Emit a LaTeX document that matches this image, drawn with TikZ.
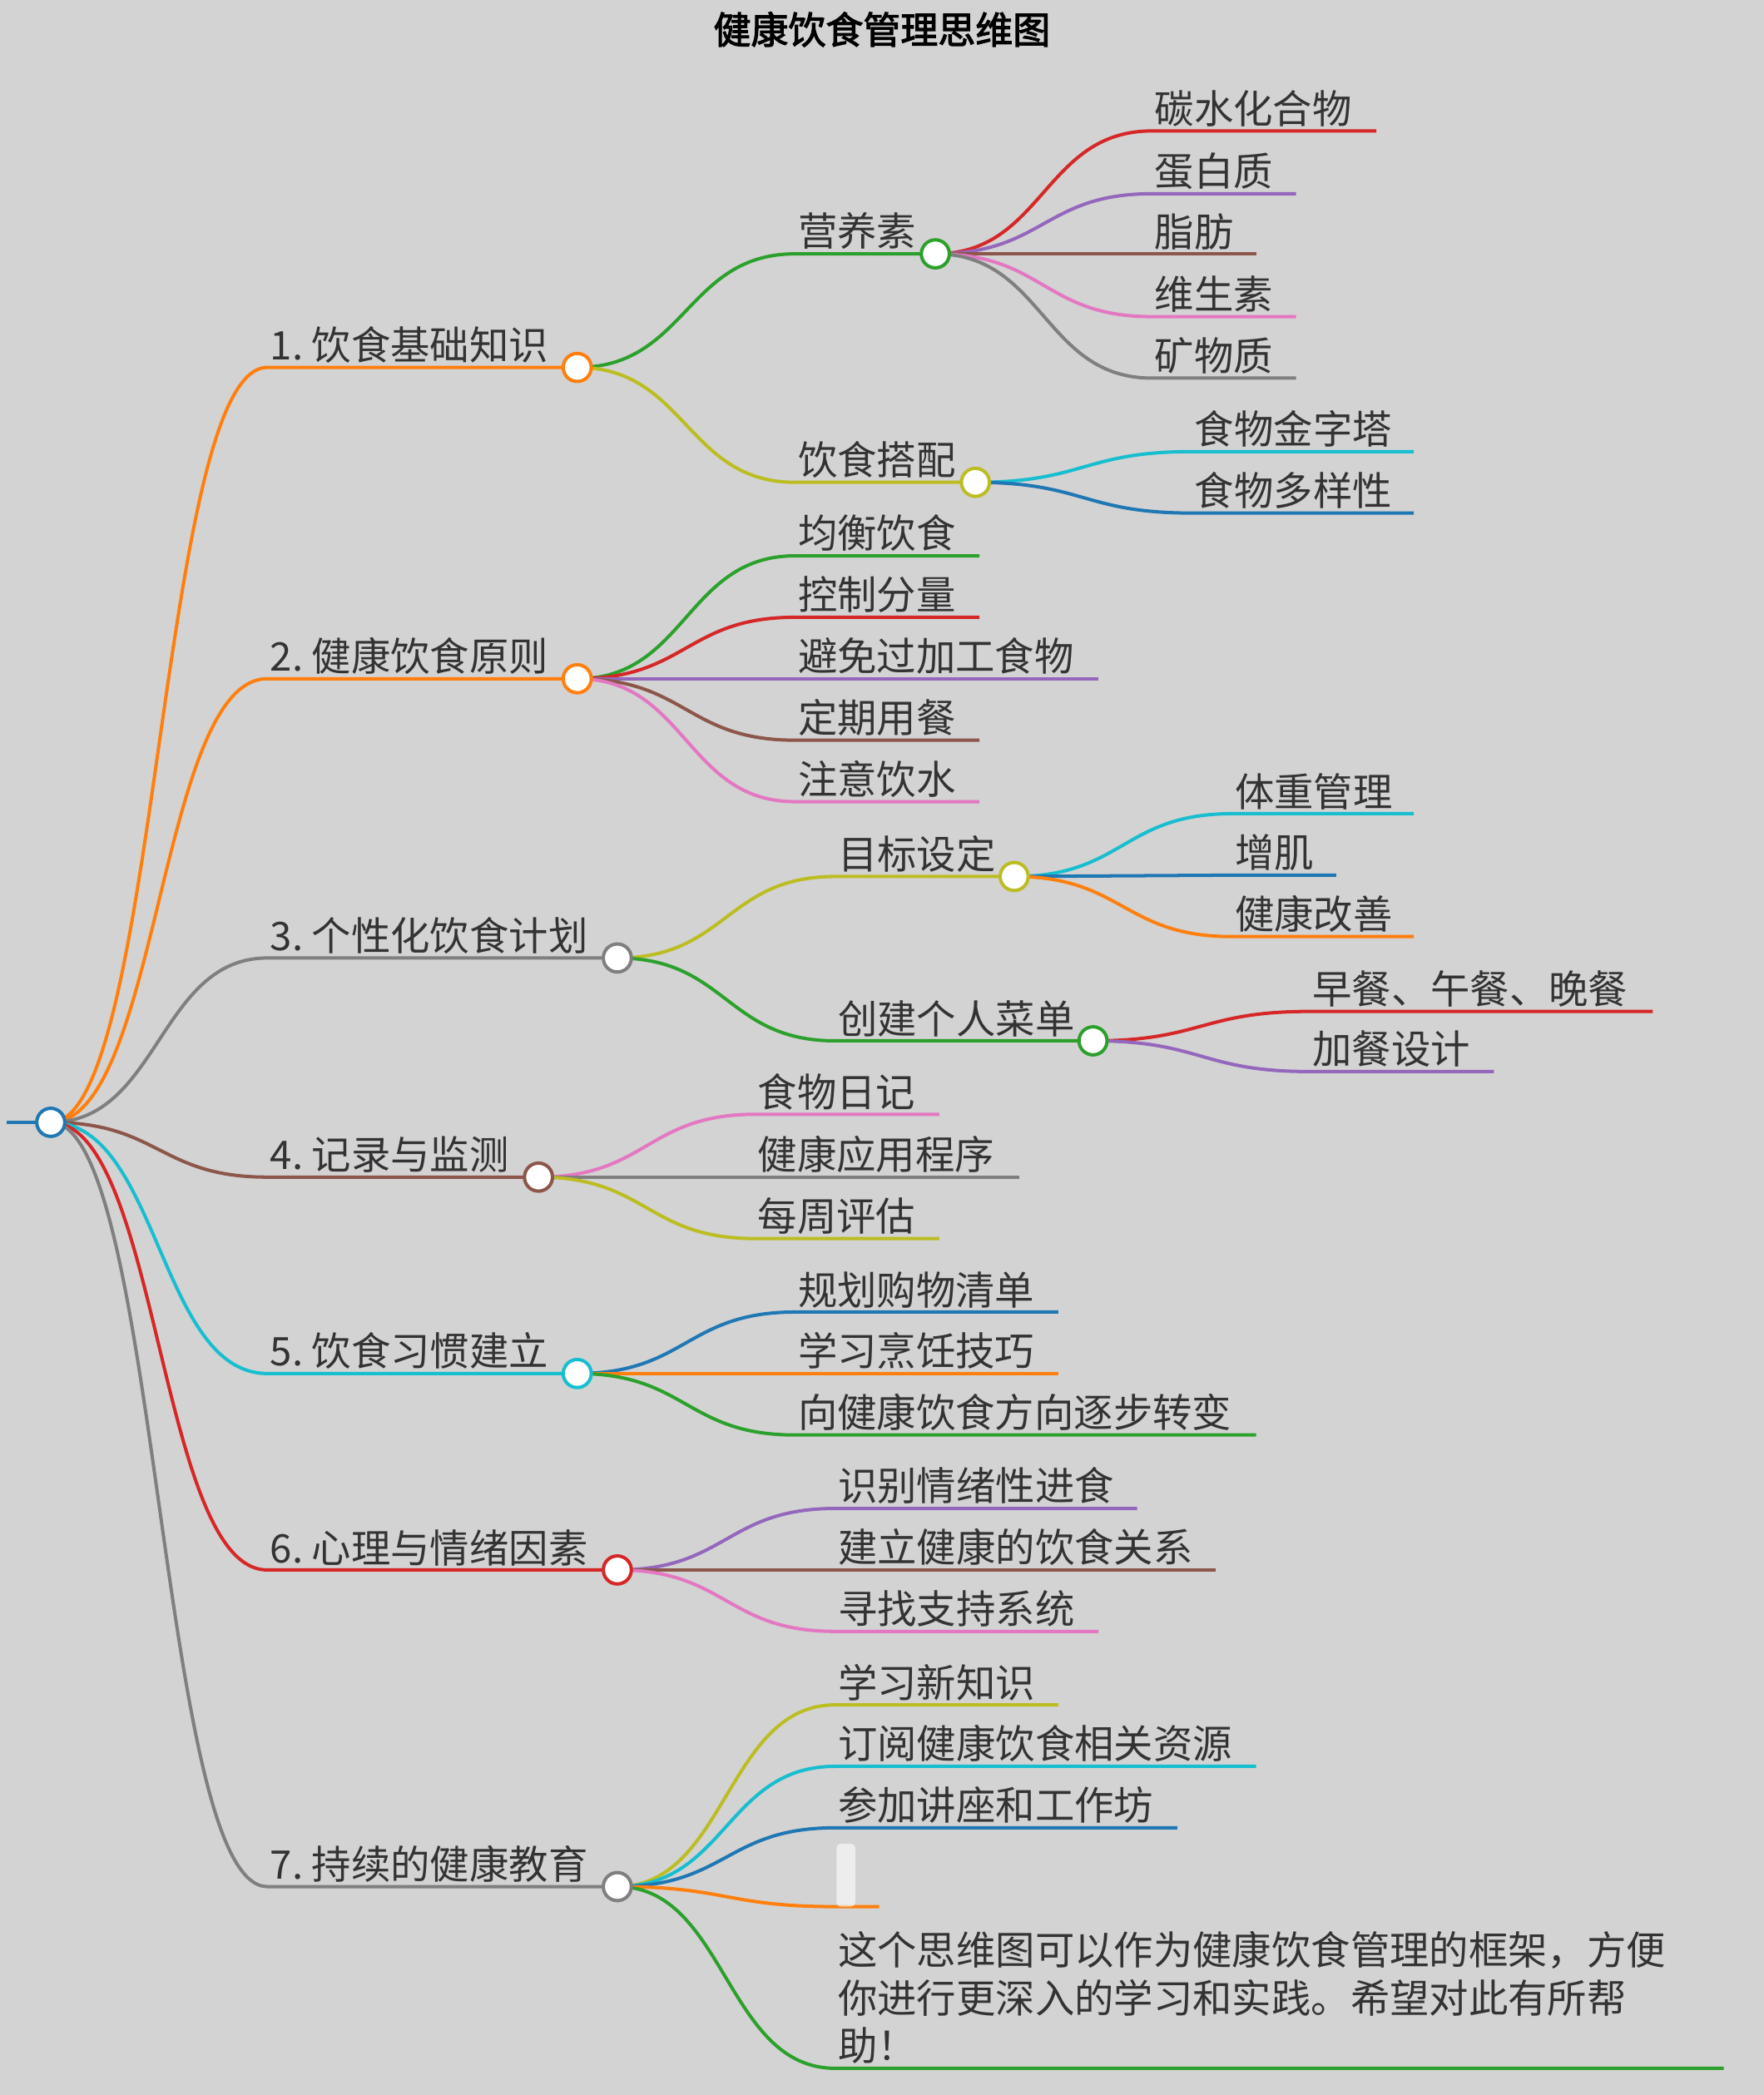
\documentclass[tikz,border=0pt]{standalone}
\usepackage{fontspec}
\setmainfont[AutoFakeBold=2.5]{Noto Sans CJK SC}
\pgfdeclarelayer{fg}
\pgfsetlayers{main,fg}
\definecolor{cO}{HTML}{FF7F0E}\definecolor{cG}{HTML}{2CA02C}\definecolor{cR}{HTML}{D62728}
\definecolor{cP}{HTML}{9467BD}\definecolor{cB}{HTML}{8C564B}\definecolor{cK}{HTML}{E377C2}
\definecolor{cY}{HTML}{7F7F7F}\definecolor{cL}{HTML}{BCBD22}\definecolor{cC}{HTML}{17BECF}
\definecolor{cU}{HTML}{1F77B4}\definecolor{bg}{HTML}{D3D3D3}\definecolor{tx}{HTML}{333333}
\tikzset{ln/.style={line width=2.5pt},
 lbl/.style={anchor=south west,inner sep=0pt,xshift=2pt,yshift=3pt,text=tx,font=\fontsize{29.5}{36}\selectfont},
 dot/.style={circle,draw=#1,fill=white,line width=2.5pt,minimum size=21pt,inner sep=0pt}}
\newcommand\lf[7]{\draw[ln,#1] (#2,#3) .. controls ({(#2+#4)/2},#3) and ({(#2+#4)/2},#6) .. (#4,#6) -- (#5,#6);
 \node[lbl] at (#4,#6) {#7};}
\newcommand\md[8]{\lf{#1}{#2}{#3}{#4}{#5}{#6}{#7}
 \begin{pgfonlayer}{fg}\node[dot=#1] (#8) at (#5,#6) {};\end{pgfonlayer}}
\begin{document}
\begin{tikzpicture}[x=1pt,y=-1pt]
\fill[bg] (0,0) rectangle (1320,1568);
\useasboundingbox (0,0) rectangle (1320,1568);
\node[font=\fontsize{28}{32}\selectfont\bfseries,text=black] (title) at (660,22) {健康饮食管理思维图};
\draw[ln,cU] (5,840) -- (28,840);
\begin{pgfonlayer}{fg}\node[dot=cU] (root) at (38,840) {};\end{pgfonlayer}
% 1
\md{cO}{38}{840}{200}{432}{275}{1.\ 饮食基础知识}{a}
\md{cG}{432}{275}{595}{700}{190}{营养素}{a1}
\lf{cR}{700}{190}{862}{1030}{98}{碳水化合物}
\lf{cP}{700}{190}{862}{970}{145}{蛋白质}
\lf{cB}{700}{190}{862}{940}{190}{脂肪}
\lf{cK}{700}{190}{862}{970}{237}{维生素}
\lf{cY}{700}{190}{862}{970}{283}{矿物质}
\md{cL}{432}{275}{595}{730}{361}{饮食搭配}{a2}
\lf{cC}{730}{361}{892}{1058}{338}{食物金字塔}
\lf{cU}{730}{361}{892}{1058}{384}{食物多样性}
% 2
\md{cO}{38}{840}{200}{432}{508}{2.\ 健康饮食原则}{b}
\lf{cG}{432}{508}{595}{733}{416}{均衡饮食}
\lf{cR}{432}{508}{595}{733}{462}{控制分量}
\lf{cP}{432}{508}{595}{822}{508}{避免过加工食物}
\lf{cB}{432}{508}{595}{733}{554}{定期用餐}
\lf{cK}{432}{508}{595}{733}{600}{注意饮水}
% 3
\md{cY}{38}{840}{200}{462}{717}{3.\ 个性化饮食计划}{c}
\md{cL}{462}{717}{625}{759}{656}{目标设定}{c1}
\lf{cC}{759}{656}{922}{1058}{609}{体重管理}
\lf{cU}{759}{656}{922}{1000}{655}{增肌}
\lf{cO}{759}{656}{922}{1058}{701}{健康改善}
\md{cG}{462}{717}{625}{818}{779}{创建个人菜单}{c2}
\lf{cR}{818}{779}{980}{1237}{757}{早餐、午餐、晚餐}
\lf{cP}{818}{779}{980}{1118}{802}{加餐设计}
% 4
\md{cB}{38}{840}{200}{403}{881}{4.\ 记录与监测}{d}
\lf{cK}{403}{881}{565}{703}{834}{食物日记}
\lf{cY}{403}{881}{565}{763}{881}{健康应用程序}
\lf{cL}{403}{881}{565}{703}{927}{每周评估}
% 5
\md{cC}{38}{840}{200}{432}{1028}{5.\ 饮食习惯建立}{e}
\lf{cU}{432}{1028}{595}{792}{982}{规划购物清单}
\lf{cO}{432}{1028}{595}{792}{1028}{学习烹饪技巧}
\lf{cG}{432}{1028}{595}{940}{1074}{向健康饮食方向逐步转变}
% 6
\md{cR}{38}{840}{200}{462}{1175}{6.\ 心理与情绪因素}{f}
\lf{cP}{462}{1175}{625}{851}{1129}{识别情绪性进食}
\lf{cB}{462}{1175}{625}{910}{1175}{建立健康的饮食关系}
\lf{cK}{462}{1175}{625}{822}{1221}{寻找支持系统}
% 7
\md{cY}{38}{840}{200}{462}{1412}{7.\ 持续的健康教育}{g}
\lf{cL}{462}{1412}{625}{792}{1276}{学习新知识}
\lf{cC}{462}{1412}{625}{940}{1322}{订阅健康饮食相关资源}
\lf{cU}{462}{1412}{625}{881}{1368}{参加讲座和工作坊}
\lf{cO}{462}{1412}{625}{658}{1427}{}
\fill[white,opacity=0.6,rounded corners=3pt] (626,1380) rectangle (640,1427);
\draw[ln,cG] (462,1412) .. controls (543,1412) and (543,1548) .. (625,1548) -- (1290,1548);
\node[lbl,align=left,font=\fontsize{29.5}{36}\selectfont] (long) at (625,1548) {这个思维图可以作为健康饮食管理的框架，方便\\你进行更深入的学习和实践。希望对此有所帮\\助！};
\end{tikzpicture}
\end{document}
